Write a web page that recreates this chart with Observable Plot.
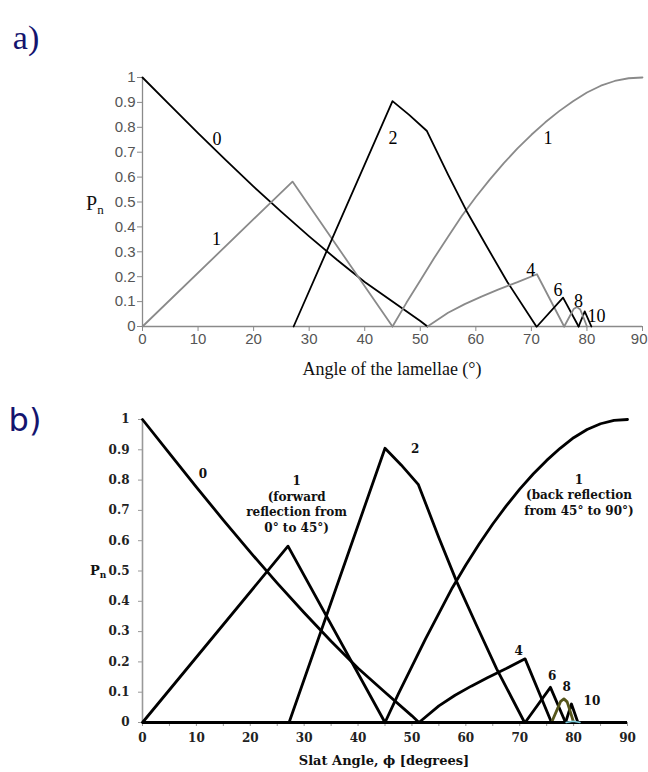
<!DOCTYPE html>
<html><head><meta charset="utf-8">
<script src="https://cdn.jsdelivr.net/npm/d3@7"></script>
<script src="https://cdn.jsdelivr.net/npm/@observablehq/plot@0.6"></script>
<style>
body{margin:0;background:#fff;}
#wrap{position:relative;width:648px;height:772px;overflow:hidden;background:#fff;}
.abs{position:absolute;white-space:nowrap;line-height:1;}
.c{transform:translate(-50%,-50%);}
.l{transform:translate(0,-50%);}
</style></head><body>
<div id="wrap">
  <div id="pa" class="abs" style="left:0;top:0"></div>
  <div id="pb" class="abs" style="left:0;top:390px"></div>
  <div class="abs c" style="left:26px;top:38px;font:34px 'Liberation Serif';color:#14146e">a)</div>
  <div class="abs c" style="left:25px;top:420px;font:32px 'DejaVu Sans';color:#14146e">b)</div>
  <div class="abs c" style="left:392px;top:369px;font:18px 'Liberation Serif';color:#111">Angle of the lamellae (°)</div>
  <div class="abs l" style="left:86px;top:203px;font:20px 'Liberation Serif';color:#111">P<span style="font-size:13px;position:relative;top:4px">n</span></div>
  <div class="abs c" style="left:384px;top:760px;font:bold 13px 'DejaVu Serif';color:#111">Slat Angle, ϕ [degrees]</div>
  <div class="abs l" style="left:90px;top:570px;font:bold 13px 'DejaVu Serif';color:#111">P<span style="font-size:9px;position:relative;top:3px">n</span></div>
</div>
<script>
// ---- data ----
const c0X = [0, 5, 10, 15, 20, 25, 30, 35, 40, 45, 50, 51.3];
const c0Y = [1, 0.888, 0.777, 0.668, 0.562, 0.46, 0.362, 0.268, 0.179, 0.1, 0.022, 0];
const c1fX = [0, 27, 45];
const c1fY = [0, 0.582, 0];
const c1bX = [45, 47.5, 50, 52.5, 55, 57.5, 60, 62.5, 65, 67.5, 70, 72.5, 75, 77.5, 80, 82.5, 85, 87.5, 90];
const c1bY = [0, 0.095, 0.185, 0.275, 0.36, 0.445, 0.52, 0.59, 0.655, 0.715, 0.77, 0.82, 0.865, 0.905, 0.94, 0.967, 0.986, 0.997, 1];
const c2X = [27.2, 45, 48, 51.2, 55, 58.3, 62, 65.7, 70.9];
const c2Y = [0, 0.905, 0.85, 0.785, 0.61, 0.465, 0.32, 0.178, 0];
const c4X = [51.3, 55, 58, 61, 64, 67.5, 71, 75.9];
const c4Y = [0, 0.055, 0.09, 0.12, 0.148, 0.178, 0.21, 0];
const c6X = [71, 75.7, 78.5];
const c6Y = [0, 0.116, 0];
const c8X = [75.9, 77, 77.6, 78.2, 78.8, 79.4, 80];
const c8Y = [0, 0.045, 0.07, 0.078, 0.068, 0.035, 0];
const c10X = [78.5, 79.6, 80.8];
const c10Y = [0, 0.061, 0];
const c12X = [78.6, 79.9, 81.2];
const c12Y = [0, 0.004, 0];

const xTicks = [0, 10, 20, 30, 40, 50, 60, 70, 80, 90];
const xTicksInner = [0, 10, 20, 30, 40, 50, 60, 70, 80];
const xTicksLast = [90];
const xMinorTicks = [0, 5, 10, 15, 20, 25, 30, 35, 40, 45, 50, 55, 60, 65, 70, 75, 80, 85, 90];
const yTicks = [0, 0.1, 0.2, 0.3, 0.4, 0.5, 0.6, 0.7, 0.8, 0.9, 1];
const yTickText = ["0", "0.1", "0.2", "0.3", "0.4", "0.5", "0.6", "0.7", "0.8", "0.9", "1"];

const labelAText = ["0", "1", "2", "1", "4", "6", "8", "10"];
const labelAX = [13.4, 13.3, 45.1, 73.0, 69.9, 74.8, 78.5, 81.7];
const labelAY = [0.753, 0.351, 0.757, 0.757, 0.227, 0.144, 0.10, 0.04];

const labelBText = ["0", "2", "4", "6", "8", "10",
  "1\n(forward\nreflection from\n0° to 45°)",
  "1\n(back reflection\nfrom 45° to 90°)"];
const labelBX = [11.2, 50.6, 69.8, 76.0, 78.7, 83.4, 28.6, 81.0];
const labelBY = [0.824, 0.906, 0.238, 0.156, 0.12, 0.073, 0.723, 0.753];

// ---- build tables ----
const curves = [
  {id: "0", x: c0X, y: c0Y},
  {id: "1f", x: c1fX, y: c1fY},
  {id: "1b", x: c1bX, y: c1bY},
  {id: "2", x: c2X, y: c2Y},
  {id: "4", x: c4X, y: c4Y},
  {id: "6", x: c6X, y: c6Y},
  {id: "10", x: c10X, y: c10Y},
  {id: "8", x: c8X, y: c8Y}
];
const rows = curves.flatMap(c => c.x.map((x, i) => ({id: c.id, x, y: c.y[i]})));
const rows12 = c12X.map((x, i) => ({id: "12", x, y: c12Y[i]}));
const labelsA = labelAText.map((t, i) => ({t, x: labelAX[i], y: labelAY[i]}));
const labelsB = labelBText.map((t, i) => ({t, x: labelBX[i], y: labelBY[i]}));

const strokeA = {"0": "#000", "1f": "#8a8a8a", "1b": "#8a8a8a", "2": "#000", "4": "#8a8a8a", "6": "#000", "8": "#8a8a8a", "10": "#000"};
const strokeB = {"0": "#000", "1f": "#000", "1b": "#000", "2": "#000", "4": "#000", "6": "#000", "8": "#55551a", "10": "#000"};

const plotA = Plot.plot({
  width: 648, height: 390,
  marginLeft: 142, marginRight: 6, marginTop: 77, marginBottom: 64,
  x: {domain: [0, 90]},
  y: {domain: [0, 1]},
  color: {type: "identity"},
  style: {background: "transparent", fontFamily: "Liberation Sans", fontSize: "15px", overflow: "visible"},
  marks: [
    Plot.ruleX([0], {stroke: "#8a8a8a", strokeWidth: 1.3}),
    Plot.ruleY([0], {stroke: "#8a8a8a", strokeWidth: 1.3}),
    Plot.axisX({ticks: xTicks, tickSize: 5, stroke: "#8a8a8a", text: null, label: null}),
    Plot.axisX({ticks: xTicksInner, tickSize: 5, tickPadding: 2, stroke: "none", fill: "#555", label: null, tickFormat: d => String(d), fontSize: 15}),
    Plot.axisX({ticks: xTicksLast, tickSize: 5, tickPadding: 2, stroke: "none", fill: "#555", label: null, tickFormat: d => String(d), fontSize: 15, textAnchor: "end", dx: 5}),
    Plot.axisY({ticks: yTicks, tickSize: 5, tickPadding: 2, stroke: "#8a8a8a", fill: "#555", label: null, tickFormat: (d, i) => yTickText[i], fontSize: 15}),
    Plot.line(rows, {x: "x", y: "y", z: "id", stroke: d => strokeA[d.id], strokeWidth: 1.8}),
    Plot.text(labelsA, {x: "x", y: "y", text: "t", fontFamily: "Liberation Serif", fontSize: 18, fill: "#000"})
  ]
});
document.getElementById("pa").appendChild(plotA);

const plotB = Plot.plot({
  width: 648, height: 382,
  marginLeft: 142, marginRight: 21, marginTop: 29, marginBottom: 50,
  x: {domain: [0, 90]},
  y: {domain: [0, 1]},
  color: {type: "identity"},
  style: {background: "transparent", fontFamily: "DejaVu Serif", fontSize: "12px", overflow: "visible"},
  marks: [
    Plot.ruleX([0], {stroke: "#999", strokeWidth: 1.6}),
    Plot.axisY({ticks: yTicks, tickSize: 4, tickPadding: 9, stroke: "#999", fill: "#222", label: null, tickFormat: (d, i) => yTickText[i], fontWeight: "bold", fontSize: 12}),
    Plot.axisX({ticks: xMinorTicks, tickSize: 4, stroke: "#999", text: null, label: null}),
    Plot.axisX({ticks: xTicks, tickSize: 0, tickPadding: 11, fill: "#222", label: null, tickFormat: d => String(d), fontWeight: "bold", fontSize: 12}),
    Plot.line(rows, {x: "x", y: "y", z: "id", stroke: d => strokeB[d.id], strokeWidth: 2.8}),
    Plot.ruleY([0], {stroke: "#000", strokeWidth: 3.2}),
    Plot.line(rows12, {x: "x", y: "y", stroke: "#7fcfe0", strokeWidth: 1.4}),
    Plot.text(labelsB, {x: "x", y: "y", text: "t", fontFamily: "DejaVu Serif", fontWeight: "bold", fontSize: 12, lineHeight: 1.3, fill: "#111"})
  ]
});
document.getElementById("pb").appendChild(plotB);
</script>
</body></html>
